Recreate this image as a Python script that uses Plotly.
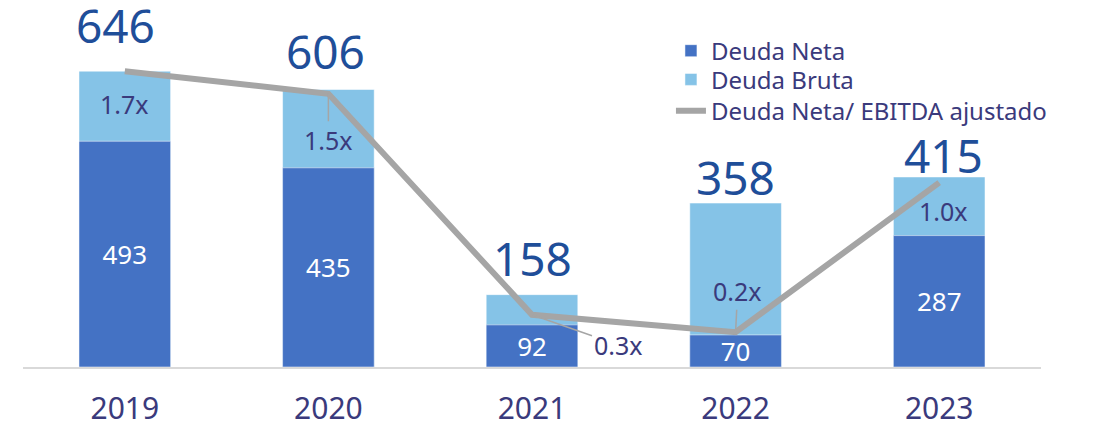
import plotly.graph_objects as go

### DATA ###
years = ["2019", "2020", "2021", "2022", "2023"]
deuda_bruta = [646, 606, 158, 358, 415]
deuda_neta = [493, 435, 92, 70, 287]
ratio = [1.70, 1.57, 0.30, 0.20, 1.06]          # Deuda Neta / EBITDA ajustado (line)
ratio_labels = ["1.7x", "1.5x", "0.3x", "0.2x", "1.0x"]

### STYLE ###
FONT = "Noto Sans"
C_NETA = "#4472C4"
C_BRUTA = "#85C3E7"
C_LINE = "#A5A5A5"
C_TOTAL = "#1F4E99"
C_TEXT = "#3A3A7C"

# manual label nudges (px) like the hand-placed labels of the original
total_shift = [(-9, 46), (-3, 39), (0, 37), (0, 26), (4, 22)]
# (ax/xshift, ay/yshift, leader line) ; ay positive = label below point
ratio_shift = [(0, -33, False), (0, 46, True), (86, 30, True), (2, -41, True), (4, -28, False)]

# page body has an 8px margin, so the figure is a bit smaller than the window
W, H = 1091, 415
Y1_MAX = 784
Y2_MAX = Y1_MAX / 380.0

fig = go.Figure()

# overlay: bruta behind, neta in front
fig.add_trace(go.Bar(x=years, y=deuda_bruta, name="Deuda Bruta", marker_color=C_BRUTA,
                     marker_line=dict(color="rgba(255,255,255,0.5)", width=1),
                     width=0.45, legend="legend2"))
fig.add_trace(go.Bar(x=years, y=deuda_neta, name="Deuda Neta", marker_color=C_NETA,
                     marker_line=dict(color="rgba(255,255,255,0.5)", width=1),
                     width=0.45, legend="legend", text=[str(v) for v in deuda_neta],
                     textposition="inside", insidetextanchor="middle", textangle=0,
                     textfont=dict(color="white", size=26, family=FONT)))
fig.add_trace(go.Scatter(x=years, y=ratio, name="Deuda Neta/ EBITDA ajustado", mode="lines",
                         line=dict(color=C_LINE, width=6), yaxis="y2", legend="legend3"))

# totals above bars (category axis -> annotation x as index)
for i, (v, (dx, dy)) in enumerate(zip(deuda_bruta, total_shift)):
    fig.add_annotation(x=i, y=v, text=str(v), showarrow=False, yanchor="middle",
                       xshift=dx, yshift=dy, font=dict(size=46, color=C_TOTAL, family=FONT))

# ratio labels with leader lines
for i, (v, lab, (dx, dy, arrow)) in enumerate(zip(ratio, ratio_labels, ratio_shift)):
    if arrow:
        fig.add_annotation(x=i, y=v, yref="y2", text=lab, showarrow=True, arrowhead=0,
                           arrowwidth=1.5, arrowcolor=C_LINE, ax=dx, ay=dy,
                           font=dict(size=25, color=C_TEXT, family=FONT))
    else:
        fig.add_annotation(x=i, y=v, yref="y2", text=lab, showarrow=False,
                           xshift=dx, yshift=dy, font=dict(size=25, color=C_TEXT, family=FONT))

leg = dict(x=0.6365, xanchor="left", yanchor="middle", bgcolor="rgba(0,0,0,0)",
           font=dict(size=24, color=C_TEXT, family=FONT))

fig.update_layout(
    width=W, height=H,
    margin=dict(l=15, r=58, t=0, b=56, autoexpand=False),
    barmode="overlay",
    plot_bgcolor="white", paper_bgcolor="white",
    font=dict(family=FONT, color=C_TEXT),
    uniformtext=dict(minsize=26, mode="show"),
    showlegend=True,
    legend=dict(leg, y=0.88),
    legend2=dict(leg, y=0.80),
    legend3=dict(leg, y=0.713),
    xaxis=dict(type="category", range=[-0.5, 4.5], showline=True, linecolor="#D9D9D9",
               linewidth=2, showgrid=False, ticks="", ticklabelstandoff=14, automargin=False,
               tickfont=dict(size=30, color=C_TEXT, family=FONT)),
    yaxis=dict(range=[0, Y1_MAX], visible=False, showgrid=False, zeroline=False, automargin=False),
    yaxis2=dict(range=[0, Y2_MAX], overlaying="y", visible=False, showgrid=False, zeroline=False,
                automargin=False),
)

fig.write_html("out.html")
